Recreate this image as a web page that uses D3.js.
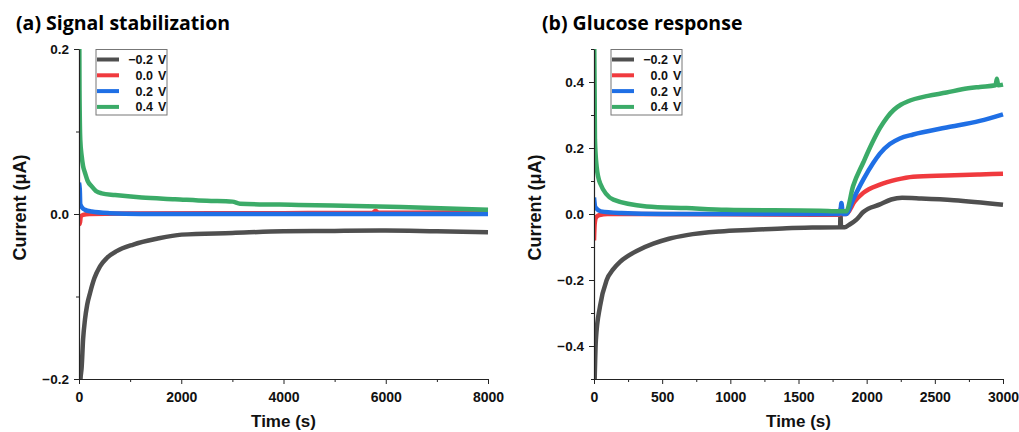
<!DOCTYPE html>
<html><head><meta charset="utf-8">
<script src="https://cdn.jsdelivr.net/npm/d3@7"></script>
<style>
html,body{margin:0;padding:0;background:#fff;}
svg{display:block;}
</style></head>
<body><svg id="c" width="1019" height="432"></svg>
<script>
// ---------- DATA ----------
const seriesLabels = ["\u22120.2", "0.0", "0.2", "0.4"];
const seriesColors = ["#4f4f4f", "#f03a3e", "#1f6fe5", "#3bab68"];

// Panel (a): signal stabilization, [time s, current µA]
const aBlack = [[0,-0.3],[10,-0.24],[25,-0.205],[53,-0.185],[80,-0.152],[117,-0.128],[160,-0.11],[215,-0.096],[300,-0.078],[411,-0.0635],[550,-0.053],[737,-0.045],[1063,-0.037],[1520,-0.030],[2008,-0.025],[3000,-0.023],[4000,-0.021],[5000,-0.0205],[6000,-0.020],[7000,-0.021],[8000,-0.022]];
const aRed   = [[0,-0.013],[20,-0.01],[35,-0.003],[80,-0.001],[200,0],[1000,0.0005],[4000,0.001],[5750,0.0015],[5800,0.004],[5850,0.0015],[8000,0.002]];
const aBlue  = [[0,0.038],[15,0.03],[25,0.012],[60,0.008],[120,0.005],[248,0.003],[600,0.001],[1200,0],[8000,0]];
const aGreen = [[0,0.3],[10,0.15],[25,0.09],[53,0.07],[80,0.058],[117,0.05],[170,0.04],[248,0.0335],[330,0.028],[444,0.025],[704,0.023],[1226,0.02],[1878,0.018],[2500,0.016],[3000,0.015],[3150,0.0125],[4300,0.011],[6300,0.0085],[8000,0.005]];

// Panel (b): glucose response
const bBlack = [[0,-0.6],[5,-0.5],[14,-0.38],[44,-0.28],[93,-0.2],[140,-0.168],[191,-0.145],[250,-0.127],[313,-0.112],[435,-0.09],[550,-0.075],[680,-0.064],[924,-0.053],[1168,-0.048],[1413,-0.043],[1600,-0.041],[1800,-0.04],[1805,-0.04],[1808,0.0],[1812,-0.04],[1840,-0.04],[1870,-0.033],[1925,-0.017],[1975,0.006],[2097,0.029],[2180,0.044],[2260,0.049],[2400,0.047],[2640,0.042],[3000,0.028]];
const bRed   = [[0,-0.08],[5,-0.03],[15,-0.01],[40,-0.003],[100,0],[1800,-0.002],[1812,0.02],[1818,0],[1850,0],[1912,0.038],[1975,0.064],[2097,0.089],[2219,0.104],[2341,0.113],[2586,0.117],[2830,0.12],[3000,0.122]];
const bBlue  = [[0,0.05],[10,0.02],[50,0.008],[200,0.003],[500,0],[1800,0],[1808,0.01],[1815,0.033],[1825,0],[1850,0],[1900,0.0435],[1975,0.104],[2049,0.155],[2097,0.183],[2170,0.212],[2243,0.229],[2341,0.241],[2586,0.262],[2830,0.282],[3000,0.302]];
const bGreen = [[0,0.6],[5,0.35],[7,0.226],[19,0.145],[44,0.094],[142,0.0435],[386,0.023],[678,0.018],[973,0.013],[1656,0.01],[1800,0.008],[1850,0.008],[1900,0.084],[1975,0.156],[2040,0.215],[2097,0.26],[2150,0.293],[2200,0.316],[2250,0.331],[2300,0.341],[2450,0.358],[2586,0.368],[2700,0.378],[2830,0.385],[2945,0.39],[2955,0.41],[2965,0.39],[3000,0.392]];

const aXTicks = [0,2000,4000,6000,8000];
const aXMinor = [1000,3000,5000,7000];
const aYTicks = [-0.2,0.0,0.2];
const aYMinor = [-0.1,0.1];
const bXTicks = [0,500,1000,1500,2000,2500,3000];
const bXMinor = [250,750,1250,1750,2250,2750];
const bYTicks = [-0.4,-0.2,0.0,0.2,0.4];
const bYMinor = [-0.5,-0.3,-0.1,0.1,0.3,0.5];

const panels = [
  {id:"a", title:"(a) Signal stabilization", titleX:16, left:79, right:488, xDomain:[0,8000], yDomain:[-0.2,0.2],
   series:[aBlack,aRed,aBlue,aGreen], xTicks:aXTicks, xMinor:aXMinor, yTicks:aYTicks, yMinor:aYMinor, legendX:96, yLabelX:20},
  {id:"b", title:"(b) Glucose response", titleX:542, left:594, right:1003, xDomain:[0,3000], yDomain:[-0.5,0.5],
   series:[bBlack,bRed,bBlue,bGreen], xTicks:bXTicks, xMinor:bXMinor, yTicks:bYTicks, yMinor:bYMinor, legendX:611, yLabelX:535}
];

// ---------- DRAW ----------
const svg = d3.select("#c");
const plotTop = 49, plotBottom = 379;
const tickFont = "'Liberation Sans', Arial, sans-serif";

panels.forEach(p => {
  const x = d3.scaleLinear().domain(p.xDomain).range([p.left, p.right]);
  const y = d3.scaleLinear().domain(p.yDomain).range([plotBottom, plotTop]);
  const g = svg.append("g");

  g.append("clipPath").attr("id","clip"+p.id).append("rect")
    .attr("x", p.left).attr("y", plotTop).attr("width", p.right - p.left + 3).attr("height", plotBottom - plotTop);

  const line = d3.line().curve(d3.curveMonotoneX).x(d => x(d[0])).y(d => y(d[1]));
  const lg = g.append("g").attr("clip-path", "url(#clip"+p.id+")");
  p.series.forEach((s, i) => {
    lg.append("path").datum(s).attr("d", line)
      .attr("fill","none").attr("stroke", seriesColors[i])
      .attr("stroke-width", 4.5).attr("stroke-linejoin","round").attr("stroke-linecap","butt");
  });

  const xAxis = g.append("g").attr("transform", `translate(0,${plotBottom})`)
    .call(d3.axisBottom(x).tickValues(p.xTicks).tickFormat(d3.format("d")).tickSize(5).tickSizeOuter(0));
  g.append("g").attr("transform", `translate(0,${plotBottom})`)
    .call(d3.axisBottom(x).tickValues(p.xMinor).tickFormat("").tickSize(3).tickSizeOuter(0))
    .select(".domain").remove();
  const yAxis = g.append("g").attr("transform", `translate(${p.left},0)`)
    .call(d3.axisLeft(y).tickValues(p.yTicks).tickFormat(d => d3.format(".1f")(d).replace("-", "\u2212")).tickSize(5).tickSizeOuter(0));
  g.append("g").attr("transform", `translate(${p.left},0)`)
    .call(d3.axisLeft(y).tickValues(p.yMinor).tickFormat("").tickSize(3).tickSizeOuter(0))
    .select(".domain").remove();

  g.selectAll(".domain").attr("stroke","#222").attr("stroke-width",1.2);
  g.selectAll(".tick line").attr("stroke","#222").attr("stroke-width",1);
  xAxis.selectAll("text").attr("font-family", tickFont).attr("font-weight","bold")
    .attr("font-size", 14).attr("fill","#111").attr("dy", null).attr("y", 23);
  yAxis.selectAll("text").attr("font-family", tickFont).attr("font-weight","bold")
    .attr("font-size", 13.5).attr("fill","#111").attr("x", -10).attr("dy","0.35em");

  g.append("text").attr("x", (p.left + p.right)/2).attr("y", 427)
    .attr("text-anchor","middle").attr("font-family", tickFont).attr("font-weight","bold")
    .attr("font-size", 17).attr("fill","#111").text("Time (s)");
  g.append("text").attr("transform", `translate(${p.yLabelX + 6},207.5) rotate(-90)`)
    .attr("text-anchor","middle").attr("font-family", tickFont).attr("font-weight","bold")
    .attr("font-size", 18).attr("fill","#111").text("Current (\u03bcA)");

  g.append("text").attr("x", p.titleX).attr("y", 30)
    .attr("font-family", "'Open Sans', 'Noto Sans', sans-serif").attr("font-weight","bold")
    .attr("font-size", 19.5).attr("fill","#000").text(p.title);

  const L = g.append("g");
  L.append("rect").attr("x", p.legendX).attr("y", 49.5).attr("width", 71).attr("height", 65.5)
    .attr("fill","#fff").attr("stroke","#777").attr("stroke-width",1);
  seriesLabels.forEach((lab, i) => {
    const yy = 59.5 + i * 15.8;
    L.append("line").attr("x1", p.legendX + 1).attr("x2", p.legendX + 23)
      .attr("y1", yy).attr("y2", yy).attr("stroke", seriesColors[i]).attr("stroke-width", 4);
    L.append("text").attr("x", p.legendX + 57).attr("y", yy + 4.5).attr("text-anchor","end")
      .attr("font-family", tickFont).attr("font-weight","bold").attr("font-size", 12.5).attr("fill","#111").text(lab);
    L.append("text").attr("x", p.legendX + 62).attr("y", yy + 4.5)
      .attr("font-family", tickFont).attr("font-weight","bold").attr("font-size", 12.5).attr("fill","#111").text("V");
  });
});
</script></body></html>
